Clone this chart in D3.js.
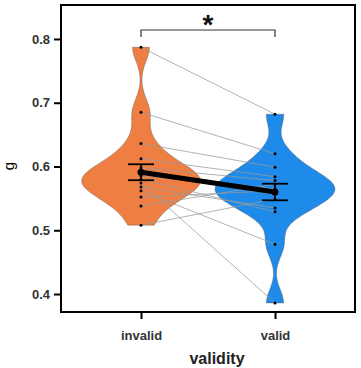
<!DOCTYPE html>
<html>
<head>
<meta charset="utf-8">
<script src="https://cdn.jsdelivr.net/npm/d3@7"></script>
<style>
  body { margin: 0; background: #fff; }
  svg text { font-family: "Liberation Sans", Arial, sans-serif; }
</style>
</head>
<body>
<svg id="chart" width="361" height="368"></svg>
<script>
// values
var groups = ["invalid", "valid"];
var invalidG = [0.787, 0.685, 0.636, 0.612, 0.598, 0.590, 0.585, 0.580, 0.574, 0.568, 0.562, 0.552, 0.538, 0.508];
var validG   = [0.682, 0.620, 0.599, 0.584, 0.578, 0.556, 0.565, 0.529, 0.386, 0.535, 0.478, 0.562, 0.572, 0.549];
var groupMeans = [0.591, 0.560];
var groupErr = [0.0125, 0.013];
var yTicks = [0.4, 0.5, 0.6, 0.7, 0.8];
var colors = ["#EE7E42", "#1E8BEA"];

var svg = d3.select("#chart");
// panel edges (note: "top" is reserved on window, so use other names)
var pLeft = 61, pRight = 355, pTop = 5, pBottom = 312;

var y = d3.scaleLinear().domain([0.3718, 0.8533]).range([pBottom, pTop]);
var x = d3.scalePoint().domain(groups).range([141, 275]);

// kernel density, bandwidth like R's bw.nrd0 (a bit smoother)
var bwAdjust = 1.2;
function bwNrd0(v) {
  var s = d3.deviation(v);
  var sorted = v.slice().sort(d3.ascending);
  var iqr = d3.quantile(sorted, 0.75) - d3.quantile(sorted, 0.25);
  var lo = Math.min(s, iqr / 1.34);
  return 0.9 * lo * Math.pow(v.length, -0.2);
}
function kde(v) {
  var bw = bwNrd0(v) * bwAdjust;
  var lo = d3.min(v), hi = d3.max(v);
  var pts = [];
  for (var i = 0; i <= 120; i++) {
    var t = lo + (hi - lo) * i / 120;
    var d = d3.mean(v, function(xi) {
      var u = (t - xi) / bw;
      return Math.exp(-0.5 * u * u) / (bw * Math.sqrt(2 * Math.PI));
    });
    pts.push([t, d]);
  }
  return pts;
}

var series = [invalidG, validG];
var dens = series.map(kde);
var maxD = d3.max(dens, function(p) { return d3.max(p, function(d) { return d[1]; }); });
var w = d3.scaleLinear().domain([0, maxD]).range([0, 60]);

// violins
dens.forEach(function(p, gi) {
  var cx = x(groups[gi]);
  var area = d3.area()
    .y(function(d) { return y(d[0]); })
    .x0(function(d) { return cx - w(d[1]); })
    .x1(function(d) { return cx + w(d[1]); })
    .curve(d3.curveBasis);
  svg.append("path")
    .datum(p)
    .attr("d", area)
    .attr("fill", colors[gi])
    .attr("stroke", "#555")
    .attr("stroke-width", 0.4);
});

// subject lines
var pairs = invalidG.map(function(v, i) { return [v, validG[i]]; });
svg.append("g")
  .selectAll("line")
  .data(pairs)
  .join("line")
    .attr("x1", x("invalid"))
    .attr("x2", x("valid"))
    .attr("y1", function(d) { return y(d[0]); })
    .attr("y2", function(d) { return y(d[1]); })
    .attr("stroke", "#999")
    .attr("stroke-opacity", 0.75)
    .attr("stroke-width", 1);

// points
series.forEach(function(v, gi) {
  svg.append("g")
    .selectAll("circle")
    .data(v)
    .join("circle")
      .attr("cx", x(groups[gi]))
      .attr("cy", function(d) { return y(d); })
      .attr("r", 1.5)
      .attr("fill", "#000");
});

// mean line and error bars
svg.append("path")
  .datum(groupMeans)
  .attr("d", d3.line()
    .x(function(d, i) { return x(groups[i]); })
    .y(function(d) { return y(d); }))
  .attr("stroke", "#000")
  .attr("stroke-width", 5)
  .attr("fill", "none");

groupMeans.forEach(function(m, i) {
  var cx = x(groups[i]);
  var g = svg.append("g").attr("stroke", "#000").attr("stroke-width", 1.8);
  g.append("line").attr("x1", cx).attr("x2", cx)
    .attr("y1", y(m - groupErr[i])).attr("y2", y(m + groupErr[i]));
  [m - groupErr[i], m + groupErr[i]].forEach(function(v) {
    g.append("line").attr("x1", cx - 13).attr("x2", cx + 13)
      .attr("y1", y(v)).attr("y2", y(v));
  });
  svg.append("circle").attr("cx", cx).attr("cy", y(m)).attr("r", 3.5).attr("fill", "#000");
});

// panel border
svg.append("rect")
  .attr("x", pLeft).attr("y", pTop)
  .attr("width", pRight - pLeft).attr("height", pBottom - pTop)
  .attr("fill", "none").attr("stroke", "#000").attr("stroke-width", 2);

// axes
var yAxis = svg.append("g")
  .attr("transform", "translate(" + (pLeft - 1) + ",0)")
  .call(d3.axisLeft(y).tickValues(yTicks).tickSize(6).tickPadding(4).tickFormat(d3.format(".1f")));
var xAxis = svg.append("g")
  .attr("transform", "translate(0," + (pBottom + 1) + ")")
  .call(d3.axisBottom(x).tickSize(6).tickPadding(12));
[yAxis, xAxis].forEach(function(a) {
  a.select(".domain").remove();
  a.selectAll(".tick line").attr("stroke", "#000").attr("stroke-width", 2);
  a.selectAll(".tick text")
    .attr("fill", "#333")
    .style("font-size", "13px")
    .style("font-weight", "bold");
});

// axis titles
svg.append("text")
  .attr("transform", "translate(14,166) rotate(-90)")
  .attr("text-anchor", "middle")
  .attr("fill", "#000")
  .style("font-size", "15px")
  .text("g");
svg.append("text")
  .attr("x", 217).attr("y", 364)
  .attr("text-anchor", "middle")
  .attr("fill", "#222")
  .style("font-size", "16px")
  .style("font-weight", "bold")
  .text("validity");

// significance bracket
var by = 30;
svg.append("path")
  .attr("d", d3.line()([[x("invalid"), by + 7], [x("invalid"), by], [x("valid"), by], [x("valid"), by + 7]]))
  .attr("fill", "none")
  .attr("stroke", "#333")
  .attr("stroke-width", 1.2);
svg.append("text")
  .attr("x", (x("invalid") + x("valid")) / 2)
  .attr("y", 34)
  .attr("text-anchor", "middle")
  .attr("fill", "#111")
  .style("font-size", "28px")
  .style("font-weight", "bold")
  .text("*");
</script>
</body>
</html>
